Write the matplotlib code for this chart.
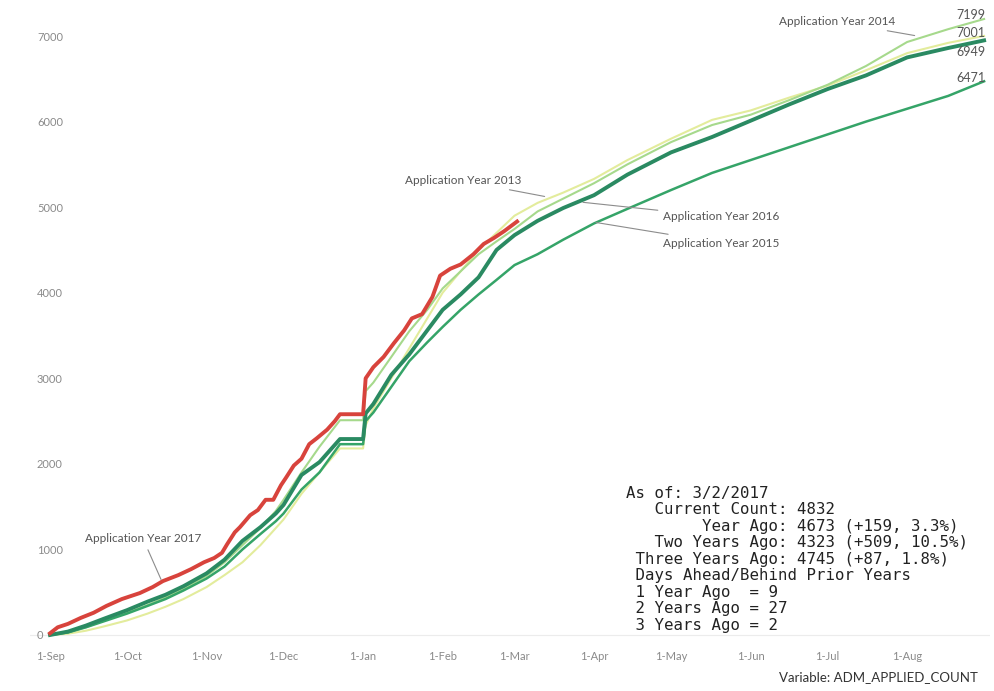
import matplotlib
matplotlib.use("Agg")
import matplotlib.pyplot as plt

# day offsets from 1-Sep, month ticks
MONTH_DAYS = [0, 30, 61, 91, 122, 153, 181, 212, 242, 273, 303, 334]
MONTH_LABELS = ["1-Sep", "1-Oct", "1-Nov", "1-Dec", "1-Jan", "1-Feb", "1-Mar",
                "1-Apr", "1-May", "1-Jun", "1-Jul", "1-Aug"]
Y_TICKS = [0, 1000, 2000, 3000, 4000, 5000, 6000, 7000]

# prior years share one sampling grid (days since 1-Sep)
PRIOR_DAYS = [0, 7, 14, 21, 30, 38, 45, 52, 61, 68, 75, 82, 88, 91, 98, 105, 113,
              122, 123, 126, 133, 140, 147, 153, 160, 167, 174, 181, 190, 200, 212,
              225, 242, 258, 273, 288, 303, 318, 334, 350, 364]

Y2013 = [0, 15, 50, 100, 170, 250, 330, 420, 560, 700, 850, 1050, 1250, 1350, 1650,
         1900, 2180, 2180, 2450, 2650, 3000, 3350, 3700, 4000, 4250, 4500, 4700, 4900,
         5050, 5170, 5330, 5550, 5800, 6020, 6130, 6280, 6420, 6600, 6800, 6920, 7001]
Y2014 = [0, 30, 90, 170, 260, 350, 440, 540, 690, 850, 1050, 1250, 1450, 1580, 1900,
         2200, 2510, 2510, 2850, 2950, 3250, 3550, 3800, 4050, 4250, 4450, 4600, 4745,
         4950, 5100, 5280, 5500, 5760, 5960, 6080, 6250, 6430, 6650, 6930, 7080, 7199]
Y2015 = [0, 30, 90, 160, 250, 340, 420, 520, 660, 800, 1000, 1180, 1330, 1420, 1700,
         1900, 2230, 2230, 2500, 2600, 2900, 3200, 3420, 3600, 3800, 3980, 4150, 4323,
         4450, 4620, 4810, 4980, 5200, 5400, 5550, 5700, 5850, 6000, 6150, 6300, 6471]
Y2016 = [0, 40, 110, 190, 290, 390, 470, 570, 720, 880, 1100, 1260, 1420, 1520, 1870,
         2020, 2290, 2290, 2590, 2700, 3040, 3280, 3560, 3800, 3980, 4180, 4500, 4673,
         4840, 4990, 5140, 5380, 5640, 5820, 6010, 6200, 6380, 6540, 6750, 6860, 6949]

DAYS_2017 = [0, 3, 7, 12, 17, 22, 28, 35, 40, 44, 50, 55, 60, 64, 67, 69, 72, 74, 78,
             81, 84, 87, 90, 92, 95, 98, 101, 104, 108, 111, 113, 122, 123, 126, 130,
             134, 138, 141, 145, 149, 152, 156, 160, 165, 169, 173, 177, 182]
Y2017 = [20, 90, 130, 200, 260, 340, 420, 490, 560, 630, 700, 770, 850, 900, 960, 1060,
         1200, 1260, 1400, 1460, 1580, 1580, 1750, 1840, 1980, 2060, 2230, 2300, 2400,
         2500, 2580, 2580, 3000, 3130, 3250, 3410, 3560, 3700, 3750, 3950, 4200, 4280,
         4330, 4450, 4570, 4640, 4720, 4832]

END_LABELS = ["7199", "7001", "6949", "6471"]

SUMMARY = ("As of: 3/2/2017\n"
           "   Current Count: 4832\n"
           "        Year Ago: 4673 (+159, 3.3%)\n"
           "   Two Years Ago: 4323 (+509, 10.5%)\n"
           " Three Years Ago: 4745 (+87, 1.8%)\n"
           " Days Ahead/Behind Prior Years\n"
           " 1 Year Ago  = 9\n"
           " 2 Years Ago = 27\n"
           " 3 Years Ago = 2")

W, H = 995, 691
fig = plt.figure(figsize=(W / 100, H / 100), dpi=100)
ax = fig.add_axes([30 / W, (H - 645) / H, 960 / W, 645 / H])

ax.axhline(0, color="#ececec", lw=0.8, zorder=0)
ax.plot(PRIOR_DAYS, Y2013, color="#e3ec9c", lw=1.5)
ax.plot(PRIOR_DAYS, Y2014, color="#a6d98c", lw=1.5)
ax.plot(PRIOR_DAYS, Y2015, color="#35a468", lw=1.8)
ax.plot(PRIOR_DAYS, Y2016, color="#2a8a62", lw=2.8)
ax.plot(DAYS_2017, Y2017, color="#d8433c", lw=2.8)

ax.set_xlim(-7.8, 366.3)
ax.set_ylim(-117, 7421)
ax.set_xticks(MONTH_DAYS)
ax.set_xticklabels(MONTH_LABELS)
ax.set_yticks(Y_TICKS)
ax.set_yticklabels([str(v) for v in Y_TICKS])
ax.tick_params(length=0, colors="#8a8a8a", labelsize=8)
ax.tick_params(axis="x", pad=4)
ax.tick_params(axis="y", pad=-5)
for lab in ax.get_yticklabels():
    lab.set_horizontalalignment("left")
for lab in ax.get_xticklabels() + ax.get_yticklabels():
    lab.set_fontfamily("Lato")
for s in ax.spines.values():
    s.set_visible(False)

lead = dict(arrowstyle="-", color="#8c8c8c", lw=0.8)
lbl = dict(fontsize=8.5, color="#555555", family="Lato", va="center")
ax.annotate("Application Year 2017", xy=(43.7, 619), xytext=(36.3, 1122),
            ha="center", arrowprops=lead, **lbl)
ax.annotate("Application Year 2013", xy=(193.8, 5119), xytext=(161, 5306),
            ha="center", arrowprops=lead, **lbl)
ax.annotate("Application Year 2016", xy=(206.6, 5060), xytext=(239, 4885),
            ha="left", arrowprops=lead, **lbl)
ax.annotate("Application Year 2015", xy=(211.7, 4826), xytext=(239, 4581),
            ha="left", arrowprops=lead, **lbl)
ax.annotate("Application Year 2014", xy=(338, 7000), xytext=(306.8, 7164),
            ha="center", arrowprops=lead, **lbl)

for txt, v in zip(END_LABELS, [7245, 7035, 6813, 6510]):
    ax.text(364.5, v, txt, ha="right", va="center", fontsize=9,
            color="#555555", family="Lato")

fig.text(626 / W, 1 - 486 / H, SUMMARY, family="DejaVu Sans Mono", fontsize=11.3,
         va="top", ha="left", linespacing=1.12, color="#222222")
fig.text(978 / W, 1 - 677 / H, "Variable: ADM_APPLIED_COUNT", family="Lato",
         fontsize=9.5, ha="right", va="center", color="#333333")

fig.savefig("out.png", dpi=100)
